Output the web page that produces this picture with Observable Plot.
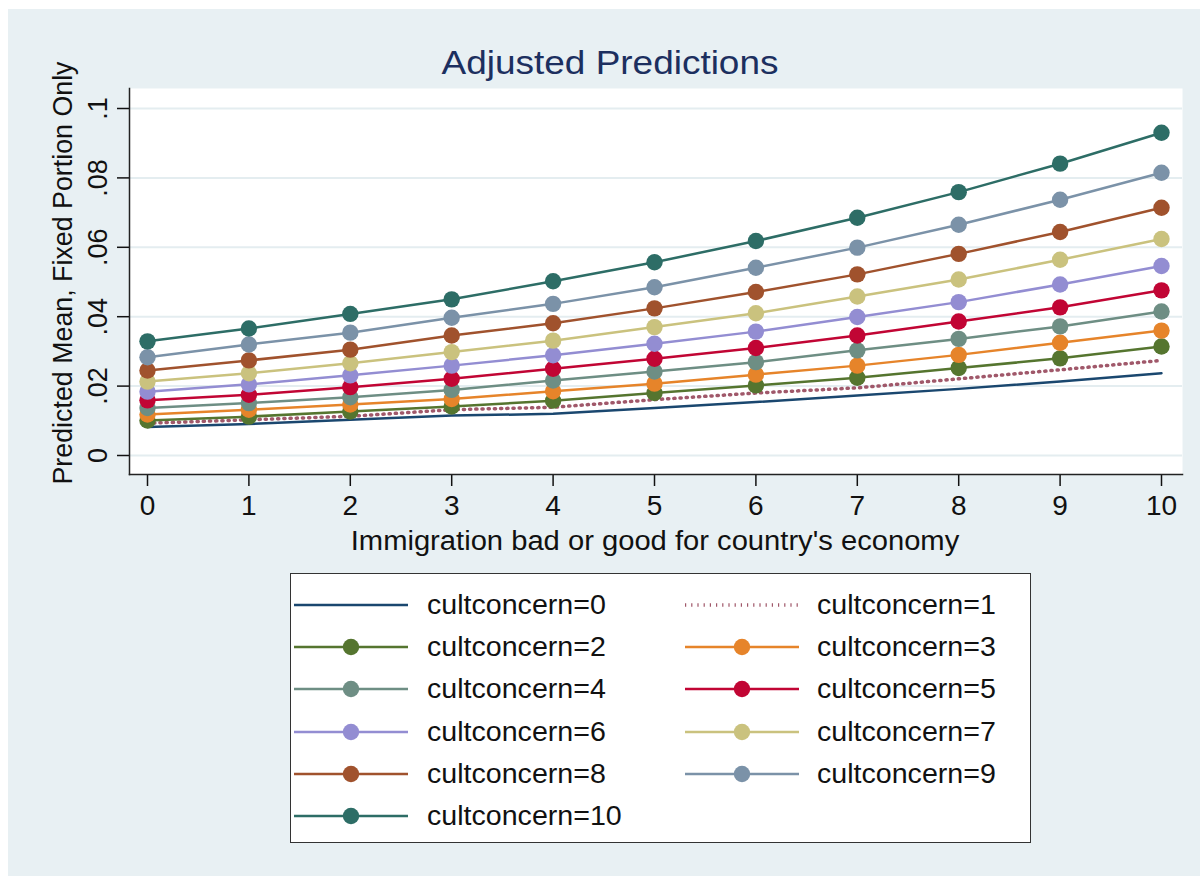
<!DOCTYPE html>
<html><head><meta charset="utf-8">
<script src="https://cdn.jsdelivr.net/npm/d3@7"></script>
<script src="https://cdn.jsdelivr.net/npm/@observablehq/plot@0.6"></script>
<style>
body{margin:0;background:#fff;font-family:"Liberation Sans",Arial,Helvetica,sans-serif;}
#page{position:relative;width:1200px;height:876px;overflow:hidden;background:#fff;}
#panel{position:absolute;left:8px;top:9px;width:1192px;height:867px;background:#e8f0f3;}
#chart{position:absolute;left:0;top:0;}
#title{position:absolute;left:610px;top:44px;font-size:33px;line-height:38px;color:#1c2f5f;white-space:nowrap;transform:translateX(-50%) scaleX(1.12);}
#ytitle{position:absolute;left:63px;top:273px;font-size:26.8px;color:#111;white-space:nowrap;transform:translate(-50%,-50%) rotate(-90deg);}
#xtitle{position:absolute;left:655px;top:541px;font-size:27px;color:#111;white-space:nowrap;transform:translate(-50%,-50%) scaleX(1.08);}
#legend{position:absolute;left:290px;top:573px;width:741px;height:270px;box-sizing:border-box;border:1.5px solid #333;background:#fff;}
.lg-text{position:absolute;font-size:27.5px;color:#111;white-space:nowrap;transform:translateY(-50%) scaleX(1.04);transform-origin:left center;}
.lg-sw{position:absolute;}
</style>
</head><body>
<div id="page">
  <div id="panel"></div>
  <div id="chart"></div>
  <div id="title">Adjusted Predictions</div>
  <div id="ytitle">Predicted Mean, Fixed Portion Only</div>
  <div id="xtitle">Immigration bad or good for country's economy</div>
  <div id="legend"></div>
</div>
<script>
// ---- data ----
const xValues = [0, 1, 2, 3, 4, 5, 6, 7, 8, 9, 10];
const xTickLabels = ["0","1","2","3","4","5","6","7","8","9","10"];
const yTicks = [0, 0.02, 0.04, 0.06, 0.08, 0.1];
const yTickLabels = ["0", ".02", ".04", ".06", ".08", ".1"];

const cult0  = [0.0082, 0.0091, 0.0103, 0.0115, 0.0120, 0.0137, 0.0154, 0.0173, 0.0192, 0.0213, 0.0237];
const cult1  = [0.0093, 0.0103, 0.0113, 0.0132, 0.0139, 0.0161, 0.0180, 0.0195, 0.0221, 0.0247, 0.0274];
const cult2  = [0.0101, 0.0112, 0.0127, 0.0141, 0.0158, 0.0180, 0.0202, 0.0224, 0.0252, 0.0280, 0.0314];
const cult3  = [0.0118, 0.0132, 0.0147, 0.0163, 0.0185, 0.0207, 0.0233, 0.0259, 0.0290, 0.0325, 0.0360];
const cult4  = [0.0137, 0.0151, 0.0168, 0.0189, 0.0216, 0.0242, 0.0269, 0.0303, 0.0336, 0.0372, 0.0415];
const cult5  = [0.0159, 0.0175, 0.0197, 0.0221, 0.0250, 0.0279, 0.0310, 0.0346, 0.0386, 0.0427, 0.0476];
const cult6  = [0.0184, 0.0205, 0.0231, 0.0259, 0.0289, 0.0322, 0.0357, 0.0399, 0.0442, 0.0493, 0.0546];
const cult7  = [0.0213, 0.0237, 0.0266, 0.0298, 0.0331, 0.0370, 0.0410, 0.0458, 0.0507, 0.0564, 0.0624];
const cult8  = [0.0245, 0.0274, 0.0305, 0.0346, 0.0381, 0.0424, 0.0471, 0.0522, 0.0581, 0.0644, 0.0714];
const cult9  = [0.0283, 0.0320, 0.0354, 0.0397, 0.0437, 0.0485, 0.0541, 0.0599, 0.0665, 0.0737, 0.0815];
const cult10 = [0.0329, 0.0366, 0.0408, 0.0450, 0.0502, 0.0557, 0.0618, 0.0685, 0.0759, 0.0841, 0.0930];

const seriesNames = ["cultconcern=0","cultconcern=1","cultconcern=2","cultconcern=3","cultconcern=4","cultconcern=5","cultconcern=6","cultconcern=7","cultconcern=8","cultconcern=9","cultconcern=10"];
const seriesValues = [cult0, cult1, cult2, cult3, cult4, cult5, cult6, cult7, cult8, cult9, cult10];
const seriesColors = ["#1a476f","#a0586a","#55752f","#e6842a","#6e8e84","#c10534","#938dd2","#cac27e","#a0522d","#7b92a8","#2d6d66"];
const seriesMarkers = [false, false, true, true, true, true, true, true, true, true, true];
const seriesDash = [null, "1.2,5", null, null, null, null, null, null, null, null, null];

// ---- table ----
const table = [];
seriesValues.forEach((vals, s) => vals.forEach((v, i) => table.push({x: xValues[i], y: v, s})));

const seriesMarks = [];
seriesNames.forEach((name, s) => {
  const rows = table.filter(d => d.s === s);
  seriesMarks.push(Plot.line(rows, {x: "x", y: "y", stroke: seriesColors[s], strokeWidth: s === 1 ? 3.5 : 2.5, strokeDasharray: seriesDash[s] ?? undefined}));
  if (seriesMarkers[s]) seriesMarks.push(Plot.dot(rows, {x: "x", y: "y", r: 8.2, fill: seriesColors[s], stroke: "none"}));
});

const chart = Plot.plot({
  width: 1200, height: 560,
  marginLeft: 129, marginRight: 18, marginTop: 88, marginBottom: 86,
  style: {background: "transparent", fontFamily: '"Liberation Sans", Arial, sans-serif', fontSize: "27px", color: "#111", overflow: "visible"},
  x: {domain: [0, 10], range: [147, 1161], label: null},
  y: {domain: [0, 0.1], range: [455, 108], label: null},
  marks: [
    Plot.frame({fill: "white", stroke: "none"}),
    Plot.ruleY(yTicks, {stroke: "#e4edf0", strokeWidth: 2}),
    Plot.axisX(xValues, {tickSize: 12, tickPadding: 9, strokeWidth: 1.5, label: null, fontSize: 28, tickFormat: d => xTickLabels[xValues.indexOf(d)]}),
    Plot.axisY(yTicks, {tickSize: 12, tickPadding: 11, tickRotate: -90, strokeWidth: 1.5, label: null, fontSize: 27, tickFormat: d => yTickLabels[yTicks.indexOf(d)]}),
    Plot.frame({anchor: "left", stroke: "#222", strokeWidth: 1.5}),
    Plot.frame({anchor: "bottom", stroke: "#222", strokeWidth: 1.5}),
    ...seriesMarks
  ]
});
document.getElementById("chart").appendChild(chart);

// ---- legend ----
const legend = document.getElementById("legend");
seriesNames.forEach((name, s) => {
  const col = s % 2, row = Math.floor(s / 2);
  const cy = 31 + row * 42.2;
  const swX = col === 0 ? 3 : 394;
  const txX = col === 0 ? 136 : 526;
  const ns = "http://www.w3.org/2000/svg";
  const svg = document.createElementNS(ns, "svg");
  svg.setAttribute("width", 114); svg.setAttribute("height", 24);
  svg.setAttribute("class", "lg-sw");
  svg.style.left = swX + "px"; svg.style.top = (cy - 12) + "px";
  const ln = document.createElementNS(ns, "line");
  ln.setAttribute("x1", 0); ln.setAttribute("x2", 114); ln.setAttribute("y1", 12); ln.setAttribute("y2", 12);
  ln.setAttribute("stroke", seriesColors[s]);
  ln.setAttribute("stroke-width", s === 1 ? 3.5 : 2.5);
  if (seriesDash[s]) ln.setAttribute("stroke-dasharray", seriesDash[s]);
  svg.appendChild(ln);
  if (seriesMarkers[s]) {
    const c = document.createElementNS(ns, "circle");
    c.setAttribute("cx", 57); c.setAttribute("cy", 12); c.setAttribute("r", 8.2);
    c.setAttribute("fill", seriesColors[s]);
    svg.appendChild(c);
  }
  legend.appendChild(svg);
  const t = document.createElement("div");
  t.className = "lg-text";
  t.style.left = txX + "px"; t.style.top = cy + "px";
  t.textContent = name;
  legend.appendChild(t);
});
</script>
</body></html>
